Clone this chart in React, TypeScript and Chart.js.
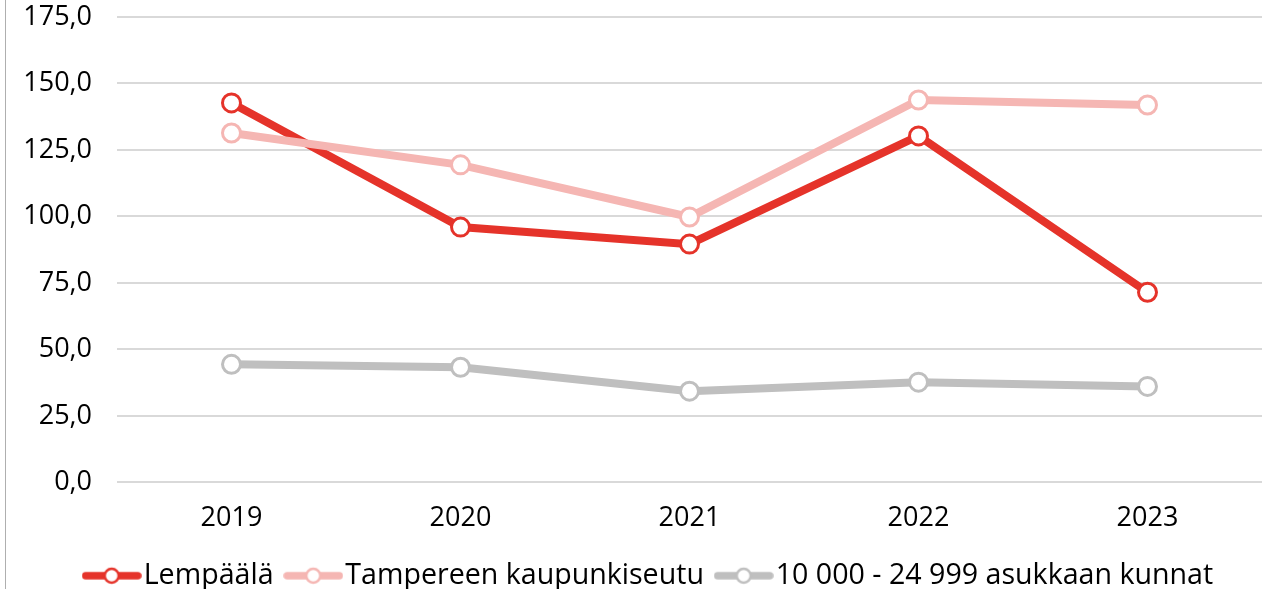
import React, { useEffect, useRef } from "react";
import { Chart, registerables } from "chart.js";

Chart.register(...registerables);

const categories = ["2019", "2020", "2021", "2022", "2023"];
const seriesNames = ["Lempäälä", "Tampereen kaupunkiseutu", "10 000 - 24 999 asukkaan kunnat"];
const lempaala = [142.7, 96.0, 89.6, 130.3, 71.5];
const tampere = [131.4, 119.4, 99.8, 143.8, 141.9];
const kunnat = [44.4, 43.3, 34.3, 37.7, 36.1];
const colors = ["#E5332A", "#F5B6B3", "#BFBFBF"];
const yTicks = [0, 25, 50, 75, 100, 125, 150, 175];

const FONT = "'Open Sans', sans-serif";

function legendIcon(color: string): HTMLCanvasElement {
  const c = document.createElement("canvas");
  c.width = 60;
  c.height = 20;
  const ctx = c.getContext("2d")!;
  ctx.strokeStyle = color;
  ctx.lineWidth = 7.5;
  ctx.lineCap = "round";
  ctx.beginPath();
  ctx.moveTo(4, 10);
  ctx.lineTo(56, 10);
  ctx.stroke();
  ctx.beginPath();
  ctx.arc(30, 10, 7, 0, Math.PI * 2);
  ctx.fillStyle = "#fff";
  ctx.fill();
  ctx.lineWidth = 2.5;
  ctx.stroke();
  return c;
}

const legendShift = {
  id: "legendShift",
  afterLayout(chart: any) {
    if (chart.legend) {
      chart.legend.left += 22.5;
      chart.legend.right += 22.5;
    }
  },
};

export default function App() {
  const ref = useRef<HTMLCanvasElement>(null);
  useEffect(() => {
    document.body.style.margin = "0";
    const icons = colors.map(legendIcon);
    const values = [lempaala, tampere, kunnat];
    const chart = new Chart(ref.current!, {
      type: "line",
      data: {
        labels: categories,
        datasets: values.map((v, i) => ({
          label: seriesNames[i],
          data: v,
          borderColor: colors[i],
          backgroundColor: "#ffffff",
          borderWidth: 8,
          pointRadius: 9,
          pointBorderWidth: 3,
          pointBackgroundColor: "#ffffff",
          pointBorderColor: colors[i],
          tension: 0,
          order: i === 1 ? 0 : i === 0 ? 1 : 2,
        })),
      },
      plugins: [legendShift],
      options: {
        animation: false,
        responsive: false,
        maintainAspectRatio: false,
        layout: { padding: { top: 17, left: 0, right: 14, bottom: -11 } },
        plugins: {
          tooltip: { enabled: false },
          legend: {
            position: "bottom",
            labels: {
              usePointStyle: true,
              pointStyleWidth: 35.5,
              padding: 22,
              color: "#000",
              font: { family: FONT, size: 28.6 },
              generateLabels: (ch: any) => {
                const items = Chart.defaults.plugins.legend.labels.generateLabels(ch);
                items.sort((a: any, b: any) => a.datasetIndex - b.datasetIndex);
                return items.map((it: any) => ({ ...it, pointStyle: icons[it.datasetIndex] }));
              },
            },
          },
        },
        scales: {
          x: {
            offset: true,
            grid: { display: false, drawTicks: false },
            border: { display: false },
            ticks: { color: "#000", font: { family: FONT, size: 27 }, padding: 20 },
            afterFit: (s: any) => { s.height = 57; },
          },
          y: {
            min: 0,
            max: 175,
            afterBuildTicks: (s: any) => { s.ticks = yTicks.map((v) => ({ value: v })); },
            grid: { color: "#D9D9D9", lineWidth: 2, drawTicks: true, tickLength: 25, tickColor: "rgba(0,0,0,0)" },
            border: { display: false },
            ticks: {
              color: "#000",
              font: { family: FONT, size: 27 },
              padding: 0,
              callback: (v: any) => Number(v).toFixed(1).replace(".", ","),
            },
            afterFit: (s: any) => { s.width = 117; },
          },
        },
      },
    });
    return () => chart.destroy();
  }, []);
  return (
    <div style={{ position: "relative", width: 1276, height: 589, background: "#fff" }}>
      <div style={{ position: "absolute", left: 5, top: 0, width: 1, height: 589, background: "#AFAFAF" }} />
      <canvas ref={ref} width={1276} height={589} style={{ position: "absolute", left: 0, top: 0 }} />
    </div>
  );
}
